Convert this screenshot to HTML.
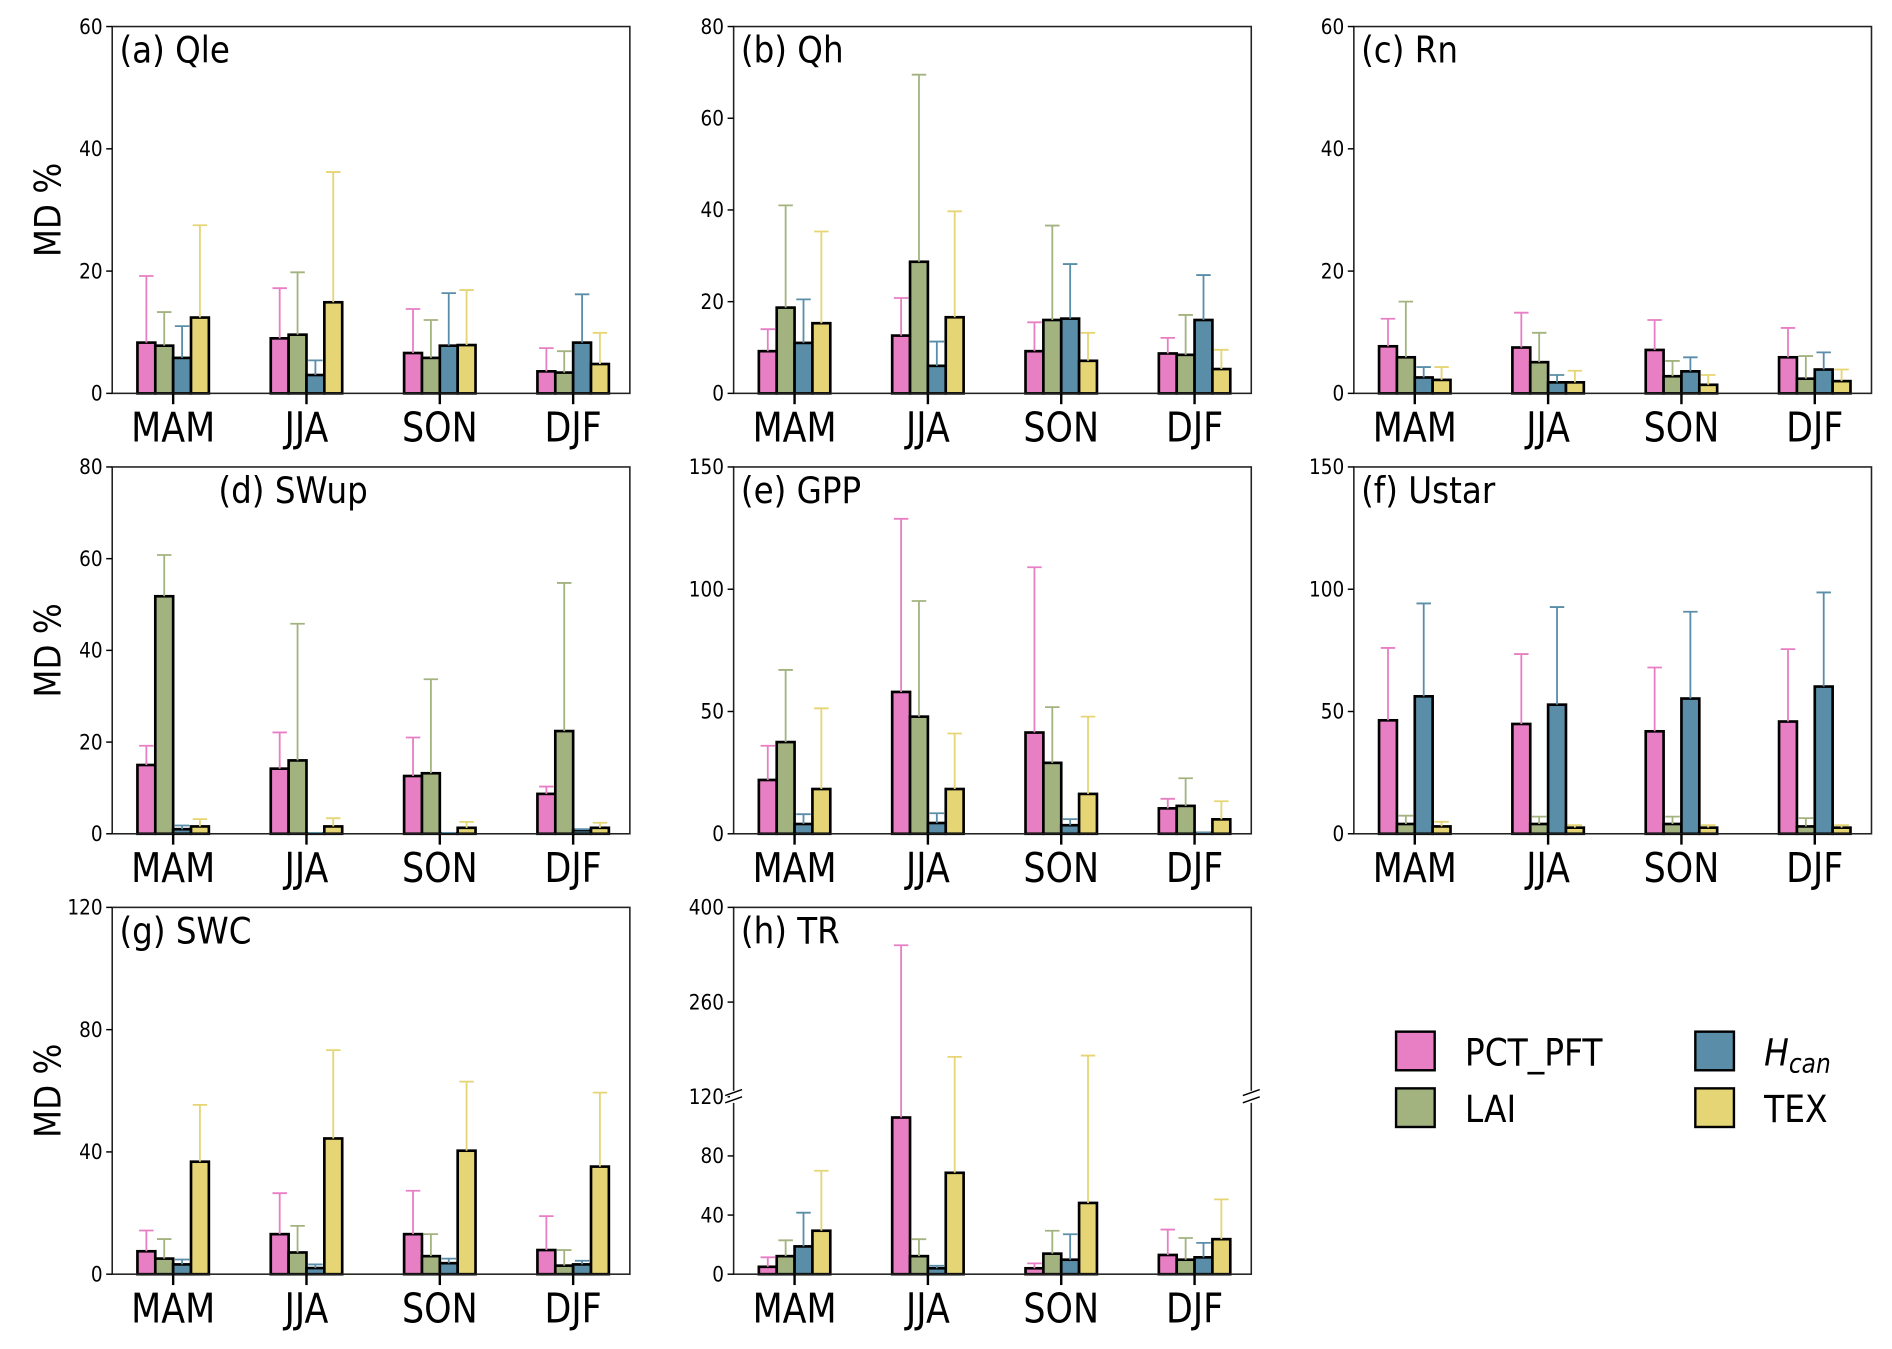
<!DOCTYPE html>
<html><head><meta charset="utf-8"><style>
html,body{margin:0;padding:0;background:#fff;}
svg{display:block;}
text{font-family:"DejaVu Sans","Liberation Sans",sans-serif;fill:#000;}
</style></head>
<body>
<svg id="fig" width="1892" height="1349" viewBox="0 0 1568 1118" preserveAspectRatio="none" xmlns="http://www.w3.org/2000/svg"></svg>
<script>
const categories = ["MAM","JJA","SON","DJF"];
const seriesNames = ["PCT_PFT","LAI","Hcan","TEX"];
const colors = ["#e87fc4","#a3b380","#5a8ea8","#e6d574"];
const panelTitles = ["(a) Qle","(b) Qh","(c) Rn","(d) SWup","(e) GPP","(f) Ustar","(g) SWC","(h) TR"];
const yTicks = [[0,20,40,60],[0,20,40,60,80],[0,20,40,60],[0,20,40,60,80],[0,50,100,150],[0,50,100,150],[0,40,80,120],[0,40,80,120,260,400]];
const yMax = [60,80,60,80,150,150,120,400];
// values[panel][series][category]
const qleVals = [[8.3,9.0,6.6,3.6],[7.8,9.6,5.8,3.4],[5.8,3.0,7.8,8.3],[12.4,14.9,7.9,4.8]];
const qleErr  = [[19.2,17.2,13.8,7.4],[13.3,19.8,12,6.9],[11,5.4,16.4,16.2],[27.5,36.2,16.9,9.9]];
const qhVals = [[9.2,12.6,9.2,8.7],[18.7,28.7,16,8.4],[11,6,16.3,16],[15.3,16.6,7.1,5.3]];
const qhErr  = [[14,20.8,15.5,12.1],[41,69.5,36.6,17.1],[20.5,11.3,28.2,25.8],[35.3,39.7,13.2,9.5]];
const rnVals = [[7.7,7.5,7.1,5.9],[5.9,5.1,2.8,2.4],[2.6,1.8,3.6,3.9],[2.2,1.8,1.4,2.0]];
const rnErr  = [[12.2,13.2,12,10.7],[15,9.9,5.3,6.1],[4.3,3,5.9,6.7],[4.3,3.7,3,3.9]];
const swupVals = [[15,14.2,12.6,8.7],[51.8,16,13.2,22.4],[1,0.1,0.1,0.8],[1.6,1.6,1.3,1.3]];
const swupErr  = [[19.2,22.1,21,10.3],[60.8,45.8,33.7,54.7],[1.8,0.2,0.2,1],[3.2,3.4,2.6,2.4]];
const gppVals = [[22,58,41.4,10.4],[37.5,47.9,29,11.4],[4,4.4,3.5,0.3],[18.3,18.3,16.3,5.9]];
const gppErr  = [[36,128.8,109,14.3],[67,95.2,51.8,22.7],[8,8.4,6,0.5],[51.3,41,47.9,13.3]];
const ustarVals = [[46.4,44.9,41.9,45.9],[4,4,4,3],[56.2,52.8,55.3,60.2],[3,2.5,2.5,2.5]];
const ustarErr  = [[76,73.5,68,75.5],[7.4,7,7,6.4],[94.2,92.7,90.8,98.7],[4.9,3.5,3.5,3.5]];
const swcVals = [[7.5,13.1,13.1,7.9],[5.1,7.1,5.9,2.8],[3.2,2,3.6,3.2],[36.8,44.4,40.4,35.2]];
const swcErr  = [[14.3,26.5,27.3,19],[11.5,15.8,13.1,7.9],[4.8,3.2,5.1,4.4],[55.4,73.3,63,59.4]];
const trVals = [[5,106,4,13],[12.2,12.2,13.9,9.8],[18.8,4,9.8,11.4],[29.4,68.6,48.2,23.7]];
const trErr  = [[11.4,344,7.3,30.2],[22.9,23.7,29.4,24.5],[41.6,5.7,27,21.2],[70,179,181,50.6]];
const allVals = [qleVals,qhVals,rnVals,swupVals,gppVals,ustarVals,swcVals,trVals];
const allErr = [qleErr,qhErr,rnErr,swupErr,gppErr,ustarErr,swcErr,trErr];

const NS="http://www.w3.org/2000/svg";
const svg=document.getElementById('fig');
function mk(tag,attrs,parent){const e=document.createElementNS(NS,tag);for(const k in attrs)e.setAttribute(k,attrs[k]);(parent||svg).appendChild(e);return e;}
function txt(x,y,s,size,anchor,parent,sx){const t=mk('text',{x:0,y:0,'font-size':size,'text-anchor':anchor||'start',transform:`translate(${x},${y}) scale(${sx||0.85},1)`},parent);t.textContent=s;return t;}

const colX=[93,608,1122], rowY=[22,387,752], PW=429, PH=304;
for(let p=0;p<8;p++){
  const L=colX[p%3], T=rowY[Math.floor(p/3)], B=T+PH, R=L+PW;
  const g=mk('g',{});
  
  
  let yScale;
  if(p===7){ yScale=v=> v<=120 ? B-(v/120)*147 : (B-147)-((v-120)/280)*(147-(B-PH)-0+ (B-147)-(B-147)) ; 
    const brk=B-147; yScale=v=> v<=120 ? B-(v/120)*147 : brk-((v-120)/280)*(brk-T); }
  else yScale=v=>B-(v/yMax[p])*PH;
  const xScale=i=>L+50.5+i*110.5;
  const bw=14.8;
  // bars
  for(let s=0;s<4;s++){
    for(let c=0;c<4;c++){
      const v=allVals[p][s][c], e=allErr[p][s][c];
      const cx=xScale(c)+(s-1.5)*bw;
      const yT=yScale(v);
      const r=mk('rect',{x:cx-bw/2,y:yT,width:bw,height:B-yT,fill:colors[s],stroke:'#000','stroke-width':2.2},g);
      
      
      const yE=yScale(e);
      const el=mk('path',{d:`M${cx},${yT}V${yE}M${cx-6},${yE}H${cx+6}`,stroke:colors[s],'stroke-width':1.5,fill:'none'},g);
      
      
    }
  }
  // frame
  const f=mk('rect',{x:L,y:T,width:PW,height:PH,fill:'none',stroke:'#222','stroke-width':1.3},g);
  
  
  // y ticks
  yTicks[p].forEach(v=>{
    const y=yScale(v);
    mk('line',{x1:L-5,x2:L,y1:y,y2:y,stroke:'#000','stroke-width':1.2},g);
    const t=txt(L-8,y+6,String(v),18,'end',g);
    
    
  });
  // x ticks
  categories.forEach((c,i)=>{
    const x=xScale(i);
    mk('line',{x1:x,x2:x,y1:B,y2:B+9,stroke:'#000','stroke-width':2},g);
    const t=txt(x,B+40,c,34,'middle',g);
    
    
  });
  const tx = p===3 ? L+88 : L+6;
  const tt=txt(tx,T+30,panelTitles[p],30,'start',g,0.9);
  
  
  if(p===7){
    const by=B-147;
    mk('rect',{x:L-3,y:by-5,width:6,height:10,fill:'#fff'},g);
    mk('rect',{x:R-3,y:by-5,width:6,height:10,fill:'#fff'},g);
    mk('path',{d:`M${L-7},${by-1}L${L+7},${by-6}M${L-7},${by+5}L${L+7},${by}M${R-7},${by-1}L${R+7},${by-6}M${R-7},${by+5}L${R+7},${by}`,stroke:'#000','stroke-width':1.2,fill:'none'},g);
  }
  if(p%3===0){
    const yl=mk('text',{x:0,y:0,'font-size':30,'text-anchor':'middle',transform:`translate(50,${T+PH/2}) rotate(-90) scale(0.9,1)`},g);
    yl.textContent='MD %';
    
    
  }
}
// legend
const lg=mk('g',{});


const lpos=[[1157,855],[1157,902],[1405,855],[1405,902]];
for(let s=0;s<4;s++){
  const [x,y]=lpos[s];
  const e=mk('g',{},lg);
  
  
  mk('rect',{x:x,y:y,width:32,height:32,fill:colors[s],stroke:'#000','stroke-width':2},e);
  if(s===2){
    const t=mk('text',{x:0,y:0,'font-size':31,transform:`translate(${x+57},${y+28}) scale(0.88,1)`},e);
    const a=mk('tspan',{'font-style':'italic'},t);a.textContent='H';
    const b=mk('tspan',{'font-style':'italic','font-size':22,dy:6},t);b.textContent='can';
  } else {
    txt(x+57,y+28,seriesNames[s],31,'start',e,0.88);
  }
}
</script>
</body></html>
